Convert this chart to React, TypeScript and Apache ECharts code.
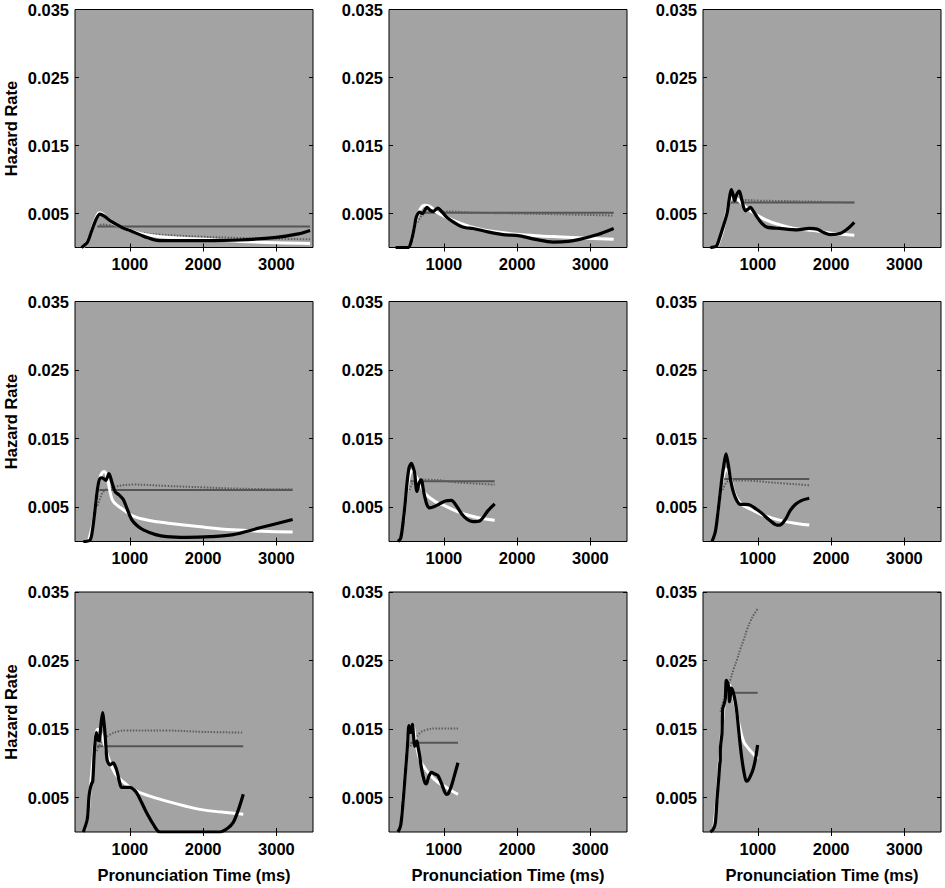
import React, { useEffect, useRef } from "react";
import * as echarts from "echarts";

const X_MIN = 250;
const X_MAX = 3500;
const Y_MIN = 0;
const Y_MAX = 0.035;
const xTicks = [1000, 2000, 3000];
const yTicks = [0.005, 0.015, 0.025, 0.035];
const yTitle = "Hazard Rate";
const xTitle = "Pronunciation Time (ms)";

// Panel 1 (row 1, col 1)
const p1Black = [[340,0],[420,0.0008],[480,0.0025],[540,0.0042],[590,0.0049],[650,0.0046],[750,0.0038],[900,0.0029],[1000,0.0025],[1200,0.0016],[1400,0.0010],[1600,0.0010],[2000,0.0010],[2500,0.0011],[3000,0.0015],[3300,0.0020],[3460,0.0025]];
const p1White = [[360,0],[450,0.0015],[500,0.0033],[550,0.0047],[580,0.0051],[620,0.0050],[700,0.0042],[800,0.0034],[1000,0.0025],[1200,0.0019],[1500,0.0015],[2000,0.0012],[2500,0.0009],[3000,0.0007],[3460,0.0006]];
const p1Solid = [[560,0.0031],[3460,0.0031]];
const p1Dotted = [[560,0.0030],[620,0.0034],[700,0.0033],[900,0.0028],[1046,0.0023],[1400,0.0019],[1957,0.0016],[2500,0.0014],[3000,0.0013],[3460,0.0012]];

// Panel 2
const p2Black = [[340,0],[510,0],[556,0.001],[600,0.0032],[624,0.0045],[669,0.0052],[706,0.0050],[769,0.0059],[810,0.0055],[851,0.0053],[919,0.0058],[960,0.0054],[1033,0.0045],[1120,0.0038],[1215,0.0032],[1300,0.0029],[1397,0.0028],[1600,0.0023],[1806,0.0019],[2035,0.0017],[2250,0.0012],[2489,0.0008],[2700,0.0009],[2854,0.0012],[3100,0.0019],[3318,0.0028]];
const p2White = [[560,0.001],[620,0.004],[680,0.0057],[740,0.0062],[800,0.0061],[900,0.0052],[1124,0.0040],[1350,0.0031],[1580,0.0025],[2035,0.0019],[2489,0.0016],[2900,0.0014],[3318,0.0012]];
const p2Solid = [[669,0.0051],[3318,0.0051]];
const p2Dotted = [[640,0.0037],[700,0.0047],[800,0.0052],[1000,0.0053],[1500,0.0051],[2000,0.0050],[2500,0.0049],[3318,0.0047]];

// Panel 3
const p3Black = [[350,0],[432,0.0002],[470,0.0012],[509,0.0025],[578,0.0050],[610,0.0072],[637,0.0085],[660,0.0078],[682,0.0069],[710,0.0078],[746,0.0083],[780,0.0070],[828,0.0054],[860,0.0056],[896,0.0059],[940,0.0053],[987,0.0045],[1050,0.0036],[1124,0.0030],[1300,0.0028],[1534,0.0026],[1700,0.0028],[1807,0.0027],[1900,0.0022],[1989,0.0019],[2130,0.0021],[2230,0.0028],[2316,0.0037]];
const p3White = [[450,0.0003],[520,0.0025],[580,0.0055],[630,0.0072],[680,0.0074],[750,0.0068],[896,0.0054],[1100,0.0041],[1306,0.0033],[1500,0.0028],[1761,0.0025],[2000,0.0021],[2316,0.0018]];
const p3Solid = [[600,0.0066],[2316,0.0066]];
const p3Dotted = [[580,0.0058],[640,0.0066],[750,0.0070],[1000,0.0069],[1500,0.0068],[2316,0.0066]];

// Panel 4
const p4Black = [[364,0],[455,0.0002],[490,0.0018],[523,0.0046],[555,0.0075],[582,0.0090],[610,0.0093],[637,0.0092],[670,0.0089],[714,0.0099],[750,0.0088],[796,0.0073],[850,0.0068],[910,0.0061],[960,0.0048],[1024,0.0032],[1100,0.0023],[1183,0.0017],[1350,0.0010],[1501,0.0007],[1774,0.0006],[2100,0.0007],[2411,0.0010],[2775,0.0020],[3222,0.0032]];
const p4White = [[440,0.0003],[500,0.003],[560,0.0078],[600,0.0096],[650,0.0102],[690,0.0093],[730,0.0072],[773,0.0058],[900,0.0047],[1046,0.0037],[1250,0.0031],[1501,0.0027],[2000,0.0021],[2411,0.0017],[2800,0.0015],[3222,0.0014]];
const p4Solid = [[582,0.0075],[3222,0.0075]];
const p4Dotted = [[560,0.0052],[600,0.0065],[650,0.0074],[800,0.0080],[1046,0.0083],[1500,0.0081],[2000,0.0079],[2500,0.0077],[3222,0.0076]];

// Panel 5
const p5Black = [[373,0],[410,0.0005],[441,0.0027],[470,0.0055],[496,0.0085],[525,0.0108],[556,0.0114],[580,0.0108],[601,0.0100],[620,0.0078],[632,0.0073],[660,0.0085],[692,0.0090],[715,0.0078],[737,0.0066],[770,0.0053],[806,0.0049],[870,0.0051],[942,0.0055],[1020,0.0059],[1102,0.0060],[1170,0.0052],[1238,0.0041],[1320,0.0032],[1397,0.0029],[1488,0.0030],[1602,0.0045],[1693,0.0055]];
const p5White = [[450,0.003],[500,0.0080],[540,0.0100],[575,0.0104],[620,0.0095],[700,0.0078],[760,0.0068],[900,0.0057],[1034,0.0051],[1150,0.0045],[1307,0.0039],[1500,0.0034],[1693,0.0031]];
const p5Solid = [[540,0.0088],[1693,0.0088]];
const p5Dotted = [[530,0.0075],[580,0.0086],[650,0.0090],[800,0.0090],[1200,0.0086],[1693,0.0083]];

// Panel 6
const p6Black = [[373,0],[420,0.0015],[463,0.0051],[500,0.0085],[531,0.0109],[564,0.0128],[590,0.0115],[600,0.0109],[630,0.0088],[668,0.0071],[710,0.0060],[759,0.0054],[830,0.0054],[896,0.0053],[980,0.0047],[1056,0.0041],[1160,0.0031],[1260,0.0024],[1300,0.0024],[1374,0.0032],[1440,0.0045],[1510,0.0054],[1600,0.0060],[1701,0.0063]];
const p6White = [[450,0.004],[500,0.0082],[540,0.0100],[570,0.0105],[620,0.0095],[680,0.0070],[759,0.0056],[900,0.0047],[1056,0.0039],[1200,0.0034],[1374,0.0029],[1550,0.0026],[1701,0.0024]];
const p6Solid = [[540,0.0091],[1701,0.0091]];
const p6Dotted = [[520,0.0075],[570,0.0086],[640,0.0089],[800,0.0089],[1200,0.0086],[1701,0.0082]];

// Panel 7
const p7Black = [[364,0],[418,0.0019],[440,0.0050],[455,0.0062],[475,0.0070],[492,0.0074],[510,0.0110],[523,0.0130],[541,0.0145],[560,0.0135],[582,0.0133],[591,0.0140],[610,0.0162],[628,0.0174],[645,0.0160],[659,0.0145],[675,0.0120],[691,0.0104],[730,0.0098],[773,0.0101],[800,0.0096],[828,0.0087],[860,0.0072],[887,0.0065],[950,0.0065],[1001,0.0065],[1050,0.0062],[1092,0.0057],[1160,0.0043],[1228,0.0028],[1320,0.0011],[1410,0],[2229,0],[2330,0.0005],[2411,0.0014],[2480,0.0032],[2548,0.0055]];
const p7White = [[380,0.0003],[420,0.002],[460,0.0065],[500,0.011],[530,0.0140],[560,0.0150],[620,0.0140],[700,0.011],[800,0.0085],[900,0.0074],[1046,0.0062],[1250,0.0053],[1501,0.0045],[1750,0.0038],[1956,0.0033],[2250,0.0029],[2548,0.0026]];
const p7Solid = [[550,0.0125],[2548,0.0125]];
const p7Dotted = [[550,0.0118],[620,0.0133],[728,0.0142],[850,0.0147],[956,0.0148],[1500,0.0148],[2000,0.0146],[2548,0.0145]];

// Panel 8
const p8Black = [[373,0],[410,0.0010],[441,0.0043],[465,0.0075],[488,0.0106],[505,0.0130],[523,0.0155],[546,0.0145],[569,0.0157],[585,0.0140],[601,0.0125],[615,0.0128],[632,0.0133],[650,0.0122],[669,0.0111],[690,0.0095],[714,0.0082],[740,0.0072],[760,0.0070],[790,0.0080],[829,0.0087],[870,0.0085],[919,0.0082],[970,0.0070],[1034,0.0055],[1060,0.0056],[1102,0.0067],[1150,0.0085],[1192,0.0101]];
const p8White = [[420,0.002],[470,0.0085],[510,0.0135],[540,0.0153],[570,0.0155],[610,0.0135],[669,0.0106],[740,0.0093],[806,0.0084],[900,0.0074],[1034,0.0065],[1120,0.0059],[1192,0.0055]];
const p8Solid = [[540,0.0130],[1192,0.0130]];
const p8Dotted = [[540,0.0125],[600,0.0133],[669,0.0144],[760,0.0149],[900,0.0151],[1192,0.0151]];

// Panel 9
const p9Black = [[350,0],[390,0.0004],[418,0.0013],[441,0.0047],[463,0.0076],[480,0.0100],[486,0.0104],[487,0.0120],[509,0.0144],[520,0.0180],[535,0.0185],[555,0.0195],[568,0.0221],[585,0.0218],[600,0.0212],[613,0.0190],[625,0.0200],[636,0.0210],[660,0.0205],[691,0.0190],[715,0.0172],[737,0.0149],[760,0.0125],[783,0.0105],[810,0.0087],[842,0.0074],[870,0.0076],[896,0.0081],[930,0.0090],[964,0.0105],[996,0.0127]];
const p9White = [[400,0.0008],[440,0.005],[480,0.011],[520,0.0165],[560,0.0200],[600,0.0215],[650,0.0205],[700,0.0180],[737,0.0160],[805,0.0132],[870,0.0122],[942,0.0113],[996,0.0107]];
const p9Solid = [[620,0.0203],[996,0.0203]];
const p9Dotted = [[490,0.0175],[531,0.0193],[580,0.0210],[623,0.0222],[670,0.0238],[714,0.0251],[760,0.0267],[805,0.0280],[850,0.0295],[896,0.0307],[950,0.0318],[996,0.0325]];

const panels = [
  { black: p1Black, white: p1White, solid: p1Solid, dotted: p1Dotted },
  { black: p2Black, white: p2White, solid: p2Solid, dotted: p2Dotted },
  { black: p3Black, white: p3White, solid: p3Solid, dotted: p3Dotted },
  { black: p4Black, white: p4White, solid: p4Solid, dotted: p4Dotted },
  { black: p5Black, white: p5White, solid: p5Solid, dotted: p5Dotted },
  { black: p6Black, white: p6White, solid: p6Solid, dotted: p6Dotted },
  { black: p7Black, white: p7White, solid: p7Solid, dotted: p7Dotted },
  { black: p8Black, white: p8White, solid: p8Solid, dotted: p8Dotted },
  { black: p9Black, white: p9White, solid: p9Solid, dotted: p9Dotted },
];

const COL_LEFT = [75, 389, 703];
const ROW_TOP = [9.5, 301.5, 592];
const ROW_H = [238, 240, 240];
const PLOT_W = 238;
const FONT = '"Liberation Sans", Arial, Helvetica, sans-serif';
const FS = 16.5;

function buildOption() {
  const grid: any[] = [];
  const xAxis: any[] = [];
  const yAxis: any[] = [];
  const series: any[] = [];
  const graphic: any[] = [];

  panels.forEach((p, i) => {
    const r = Math.floor(i / 3);
    const c = i % 3;
    grid.push({
      left: COL_LEFT[c],
      top: ROW_TOP[r],
      width: PLOT_W,
      height: ROW_H[r],
      show: true,
      backgroundColor: "#a3a3a3",
      borderColor: "#000",
      borderWidth: 1,
      containLabel: false,
      outerBoundsMode: "none",
    });
    const tickStyle = { show: true, inside: true, length: 4, lineStyle: { color: "#000", width: 1 } };
    xAxis.push({
      type: "value", gridIndex: i, position: "bottom", min: X_MIN, max: X_MAX,
      axisLine: { show: false }, splitLine: { show: false },
      axisTick: { ...tickStyle, customValues: xTicks },
      axisLabel: {
        show: true, customValues: xTicks, margin: 8, color: "#000", fontSize: FS, fontWeight: "bold", fontFamily: FONT,
        formatter: (v: number) => String(Math.round(v)),
      },
    });
    xAxis.push({
      type: "value", gridIndex: i, position: "top", min: X_MIN, max: X_MAX,
      axisLine: { show: false }, splitLine: { show: false },
      axisTick: { ...tickStyle, customValues: xTicks },
      axisLabel: { show: false },
    });
    yAxis.push({
      type: "value", gridIndex: i, position: "left", min: Y_MIN, max: Y_MAX,
      axisLine: { show: false }, splitLine: { show: false },
      axisTick: { ...tickStyle, customValues: yTicks },
      axisLabel: {
        show: true, customValues: yTicks, margin: 6, color: "#000", fontSize: FS, fontWeight: "bold", fontFamily: FONT,
        formatter: (v: number) => v.toFixed(3),
      },
    });
    yAxis.push({
      type: "value", gridIndex: i, position: "right", min: Y_MIN, max: Y_MAX,
      axisLine: { show: false }, splitLine: { show: false },
      axisTick: { ...tickStyle, customValues: yTicks },
      axisLabel: { show: false },
    });
    const xi = 2 * i;
    const yi = 2 * i;
    series.push({
      type: "line", xAxisIndex: xi, yAxisIndex: yi, data: p.solid, showSymbol: false, symbol: "none",
      lineStyle: { color: "#555555", width: 2 }, z: 2,
    });
    series.push({
      type: "line", xAxisIndex: xi, yAxisIndex: yi, data: p.dotted, showSymbol: false, symbol: "none", smooth: 0.4,
      lineStyle: { color: "#5e5e5e", width: 2, type: [1.5, 1.5] }, z: 3,
    });
    series.push({
      type: "line", xAxisIndex: xi, yAxisIndex: yi, data: p.white, showSymbol: false, symbol: "none", smooth: 0.4,
      lineStyle: { color: "#ffffff", width: 3 }, z: 4,
    });
    series.push({
      type: "line", xAxisIndex: xi, yAxisIndex: yi, data: p.black, showSymbol: false, symbol: "none", smooth: 0.3,
      lineStyle: { color: "#000000", width: 3.2 }, z: 5,
    });
  });

  for (let r = 0; r < 3; r++) {
    graphic.push({
      type: "text",
      x: 11,
      y: ROW_TOP[r] + ROW_H[r] / 2,
      rotation: Math.PI / 2,
      style: { text: yTitle, font: `bold ${FS}px ${FONT}`, fill: "#000", align: "center", verticalAlign: "middle" },
    });
  }
  for (let c = 0; c < 3; c++) {
    graphic.push({
      type: "text",
      x: COL_LEFT[c] + PLOT_W / 2,
      y: 875,
      style: { text: xTitle, font: `bold ${FS}px ${FONT}`, fill: "#000", align: "center", verticalAlign: "middle" },
    });
  }

  return { animation: false, backgroundColor: "#ffffff", grid, xAxis, yAxis, series, graphic };
}

export default function App() {
  const ref = useRef<HTMLDivElement>(null);
  useEffect(() => {
    if (!ref.current) return;
    const chart = echarts.init(ref.current, undefined, { renderer: "svg" });
    chart.setOption(buildOption() as any);
    return () => chart.dispose();
  }, []);
  return (
    <div
      ref={ref}
      style={{ position: "absolute", left: 0, top: 0, width: 945, height: 888, background: "#fff" }}
    />
  );
}
